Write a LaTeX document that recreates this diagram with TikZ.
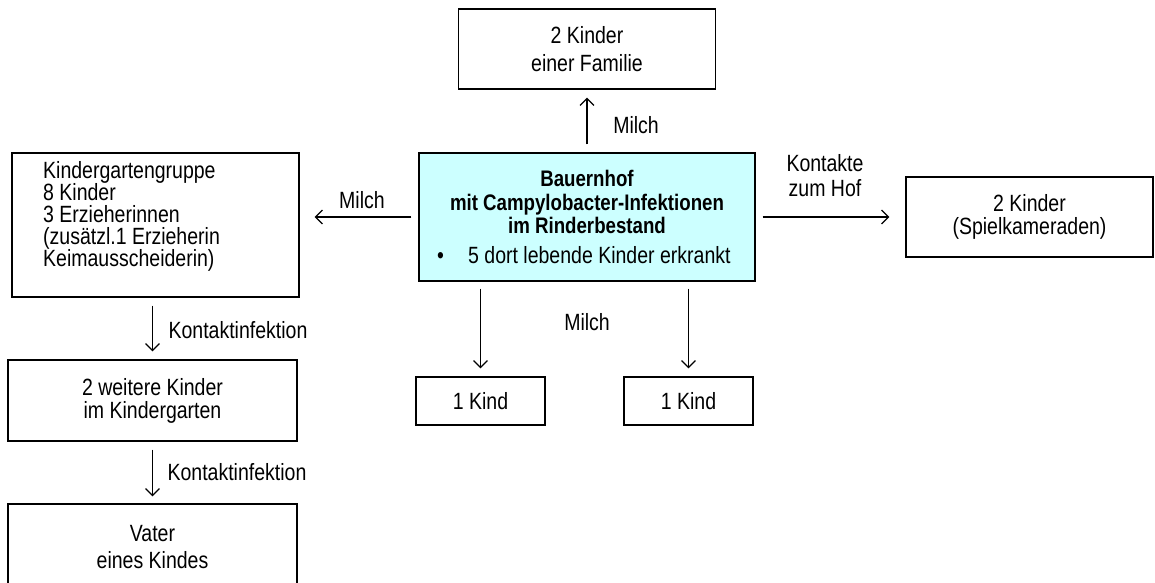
\documentclass[tikz,border=0pt]{standalone}
\usepackage{fontspec}
\setmainfont[FakeStretch=0.83]{Liberation Sans}
\usetikzlibrary{arrows.meta}
\definecolor{hofcyan}{RGB}{204,255,255}
\begin{document}
\begin{tikzpicture}[x=1pt,y=-1pt,
  box/.style={draw, line width=1.2pt, inner sep=0pt, align=center, font=\fontsize{23.5}{25}\selectfont},
  lbl/.style={inner sep=0pt, align=center, font=\fontsize{23.5}{25}\selectfont},
  arr/.style={line width=1.2pt, -{Straight Barb[length=7pt,width=14pt,line width=1.2pt]}}]
\useasboundingbox (0,0) rectangle (1155,582);

% boxes
\node[box, minimum width=257pt, minimum height=80pt, font=\fontsize{23.5}{28}\selectfont] (top) at (587,49) {2 Kinder\\einer Familie};
\node[box, fill=hofcyan, minimum width=336pt, minimum height=128pt] (hof) at (587,217) {};
\node[lbl, font=\fontsize{22.5}{23.5}\selectfont\bfseries] (hoftitle) at (587,202) {Bauernhof\\mit Campylobacter-Infektionen\\im Rinderbestand};
\node[lbl, anchor=west] (hofbullet) at (437,255) {\makebox[31pt][l]{\textbullet}5 dort lebende Kinder erkrankt};

\node[box, minimum width=287pt, minimum height=144pt] (kg) at (155.5,225) {};
\node[lbl, align=left, anchor=west, font=\fontsize{23.5}{22}\selectfont] (kgtext) at (43,216) {Kindergartengruppe\\8 Kinder\\3 Erzieherinnen\\(zusätzl.1 Erzieherin\\Keimausscheiderin)};

\node[box, minimum width=289pt, minimum height=81pt, font=\fontsize{23.5}{23}\selectfont] (w2) at (152.5,400.5) {2 weitere Kinder\\im Kindergarten};
\node[box, minimum width=289pt, minimum height=86pt, font=\fontsize{23.5}{27}\selectfont] (vater) at (152.5,547) {Vater\\eines Kindes};

\node[box, minimum width=129pt, minimum height=48pt] (k1) at (480.5,401) {1 Kind};
\node[box, minimum width=129pt, minimum height=48pt] (k2) at (688.5,401) {1 Kind};

\node[box, minimum width=247pt, minimum height=80pt, font=\fontsize{23.5}{23}\selectfont] (sp) at (1029.5,217) {2 Kinder\\(Spielkameraden)};

% connectors
\draw[arr, shorten <=8pt, shorten >=8pt] (hof.north) -- (top.south);
\draw[arr, shorten <=7pt, shorten >=15pt] (hof.west) -- (kg.east |- hof.west);
\draw[arr, shorten <=7pt, shorten >=16pt] (hof.east) -- (sp.west);
\draw[arr, shorten <=7pt, shorten >=8pt] (hof.south -| k1.north) -- (k1.north);
\draw[arr, shorten <=7pt, shorten >=8pt] (hof.south -| k2.north) -- (k2.north);
\draw[arr, shorten <=8pt, shorten >=8pt] (kg.south -| w2.north) -- (w2.north);
\draw[arr, shorten <=8pt, shorten >=7pt] (w2.south) -- (vater.north);

% labels
\node[lbl] (lmilchtop) at (636,125) {Milch};
\node[lbl] (lmilchleft) at (362,200) {Milch};
\node[lbl] (lmilchdown) at (587,322) {Milch};
\node[lbl] (lkontakt) at (825,175.5) {Kontakte\\zum Hof};
\node[lbl] (lki1) at (238,330) {Kontaktinfektion};
\node[lbl] (lki2) at (237,472) {Kontaktinfektion};
\end{tikzpicture}
\end{document}
